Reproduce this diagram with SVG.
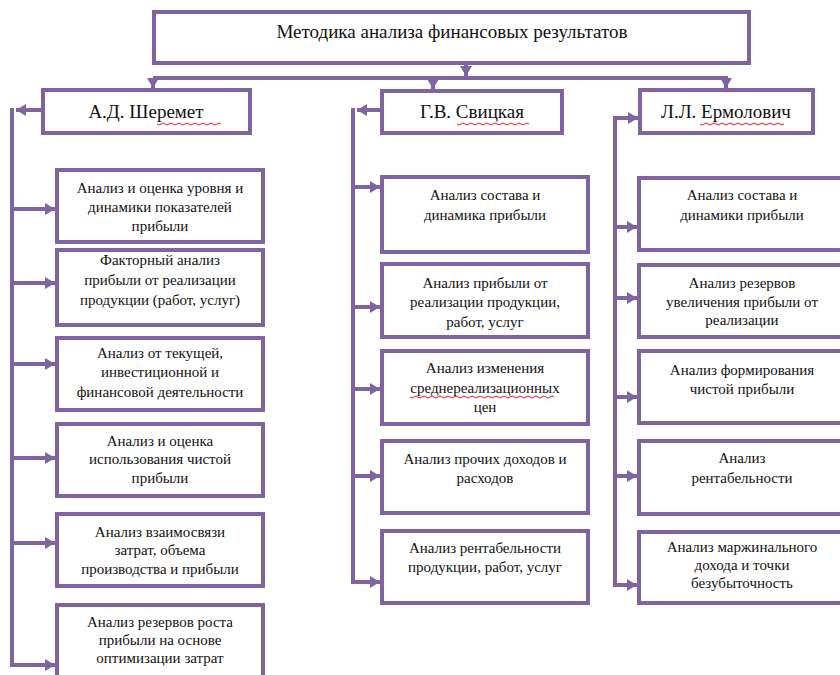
<svg xmlns="http://www.w3.org/2000/svg" width="840" height="675" viewBox="0 0 840 675">
<style>
.box{fill:#fff;stroke:#8064A2;stroke-width:4}
.ln{fill:none;stroke:#8064A2;stroke-width:4}
.t{font-size:15px;fill:#111;text-anchor:middle}
.h{font-size:19px;fill:#111;text-anchor:middle}
.sq{fill:none;stroke:#e02020;stroke-width:1}
</style>
<defs>
<marker id="ar" markerUnits="userSpaceOnUse" markerWidth="12" markerHeight="12" refX="10" refY="6" orient="auto">
<path d="M0,0 L10,6 L0,12 Z" fill="#8064A2"/>
</marker>
</defs>
<rect width="840" height="675" fill="#fff"/>
<g font-family="Liberation Serif, DejaVu Serif, serif">
<g id="root"><rect class="box" x="154" y="12" width="595" height="51"/><text class="h" x="452" y="38">Методика анализа финансовых результатов</text></g>
<g id="sheremet"><rect class="box" x="43" y="90" width="207" height="43"/><text class="h" x="146" y="118">А.Д. Шеремет</text></g>
<g id="svitskaya"><rect class="box" x="382" y="91" width="180" height="42"/><text class="h" x="472" y="118">Г.В. Свицкая</text></g>
<g id="ermolovich"><rect class="box" x="640" y="90" width="173" height="43"/><text class="h" x="726" y="118">Л.Л. Ермолович</text></g>

<g id="s1"><rect class="box" x="57" y="170" width="206" height="72"/><text class="t"><tspan x="160" y="193">Анализ и оценка уровня и</tspan><tspan x="160" y="212">динамики показателей</tspan><tspan x="160" y="231">прибыли</tspan></text></g>
<g id="s2"><rect class="box" x="57" y="250" width="206" height="75"/><text class="t"><tspan x="160" y="265">Факторный анализ</tspan><tspan x="160" y="285">прибыли от реализации</tspan><tspan x="160" y="305">продукции (работ, услуг)</tspan></text></g>
<g id="s3"><rect class="box" x="57" y="338" width="206" height="72"/><text class="t"><tspan x="160" y="358">Анализ от текущей,</tspan><tspan x="160" y="377">инвестиционной и</tspan><tspan x="160" y="397">финансовой деятельности</tspan></text></g>
<g id="s4"><rect class="box" x="57" y="424" width="206" height="72"/><text class="t"><tspan x="160" y="446">Анализ и оценка</tspan><tspan x="160" y="464">использования чистой</tspan><tspan x="160" y="483">прибыли</tspan></text></g>
<g id="s5"><rect class="box" x="57" y="514" width="206" height="72"/><text class="t"><tspan x="160" y="537">Анализ взаимосвязи</tspan><tspan x="160" y="555">затрат, объема</tspan><tspan x="160" y="574">производства и прибыли</tspan></text></g>
<g id="s6"><rect class="box" x="57" y="605" width="206" height="80"/><text class="t"><tspan x="160" y="627">Анализ резервов роста</tspan><tspan x="160" y="645">прибыли на основе</tspan><tspan x="160" y="663">оптимизации затрат</tspan></text></g>

<g id="v1"><rect class="box" x="382" y="177" width="206" height="75"/><text class="t"><tspan x="485" y="200">Анализ состава и</tspan><tspan x="485" y="220">динамика прибыли</tspan></text></g>
<g id="v2"><rect class="box" x="382" y="264" width="206" height="73"/><text class="t"><tspan x="485" y="288">Анализ прибыли от</tspan><tspan x="485" y="307">реализации продукции,</tspan><tspan x="485" y="327">работ, услуг</tspan></text></g>
<g id="v3"><rect class="box" x="382" y="351" width="206" height="73"/><text class="t"><tspan x="485" y="373">Анализ изменения</tspan><tspan x="485" y="393">среднереализационных</tspan><tspan x="485" y="412">цен</tspan></text></g>
<g id="v4"><rect class="box" x="382" y="441" width="206" height="72"/><text class="t"><tspan x="485" y="464">Анализ прочих доходов и</tspan><tspan x="485" y="483">расходов</tspan></text></g>
<g id="v5"><rect class="box" x="382" y="531" width="206" height="72"/><text class="t"><tspan x="485" y="553">Анализ рентабельности</tspan><tspan x="485" y="572">продукции, работ, услуг</tspan></text></g>

<g id="e1"><rect class="box" x="639" y="178" width="206" height="72"/><text class="t"><tspan x="742" y="200">Анализ состава и</tspan><tspan x="742" y="220">динамики прибыли</tspan></text></g>
<g id="e2"><rect class="box" x="639" y="265" width="206" height="72"/><text class="t"><tspan x="742" y="288">Анализ резервов</tspan><tspan x="742" y="307">увеличения прибыли от</tspan><tspan x="742" y="325">реализации</tspan></text></g>
<g id="e3"><rect class="box" x="639" y="351" width="206" height="72"/><text class="t"><tspan x="742" y="375">Анализ формирования</tspan><tspan x="742" y="394">чистой прибыли</tspan></text></g>
<g id="e4"><rect class="box" x="639" y="441" width="206" height="73"/><text class="t"><tspan x="742" y="463">Анализ</tspan><tspan x="742" y="483">рентабельности</tspan></text></g>
<g id="e5"><rect class="box" x="639" y="532" width="206" height="71"/><text class="t"><tspan x="742" y="552">Анализ маржинального</tspan><tspan x="742" y="570">дохода и точки</tspan><tspan x="742" y="588">безубыточность</tspan></text></g>
</g>

<g id="connectors">
<path class="ln" d="M466,65 V76" marker-end="url(#ar)"/>
<path class="ln" d="M153,78 H726"/>
<path class="ln" d="M153,78 V88" marker-end="url(#ar)"/>
<path class="ln" d="M433,78 V89" marker-end="url(#ar)"/>
<path class="ln" d="M726,76 V88" marker-end="url(#ar)"/>
<path class="ln" d="M41,110 H16" marker-end="url(#ar)"/>
<path class="ln" d="M12,108 V667"/>
<path class="ln" d="M12,209 H55" marker-end="url(#ar)"/>
<path class="ln" d="M12,283 H55" marker-end="url(#ar)"/>
<path class="ln" d="M12,364 H55" marker-end="url(#ar)"/>
<path class="ln" d="M12,458 H55" marker-end="url(#ar)"/>
<path class="ln" d="M12,543 H55" marker-end="url(#ar)"/>
<path class="ln" d="M10,665 H55" marker-end="url(#ar)"/>
<path class="ln" d="M380,110 H357" marker-end="url(#ar)"/>
<path class="ln" d="M353,108 V582"/>
<path class="ln" d="M353,187 H380" marker-end="url(#ar)"/>
<path class="ln" d="M353,307 H380" marker-end="url(#ar)"/>
<path class="ln" d="M353,389 H380" marker-end="url(#ar)"/>
<path class="ln" d="M353,476 H380" marker-end="url(#ar)"/>
<path class="ln" d="M351,582 H380" marker-end="url(#ar)"/>
<path class="ln" d="M613,118 H638" marker-end="url(#ar)"/>
<path class="ln" d="M615,116 V585"/>
<path class="ln" d="M615,227 H637" marker-end="url(#ar)"/>
<path class="ln" d="M615,298 H637" marker-end="url(#ar)"/>
<path class="ln" d="M615,397 H637" marker-end="url(#ar)"/>
<path class="ln" d="M615,476 H637" marker-end="url(#ar)"/>
<path class="ln" d="M613,585 H637" marker-end="url(#ar)"/>
</g>

<g id="squiggles">
<path class="sq" d="M157,124 q2,2 4,0 t4,0 t4,0 t4,0 t4,0 t4,0 t4,0 t4,0 t4,0 t4,0 t4,0 t4,0 t4,0 t4,0 t4,0 t4,0"/>
<path class="sq" d="M457,124 q2,2 4,0 t4,0 t4,0 t4,0 t4,0 t4,0 t4,0 t4,0 t4,0 t4,0 t4,0 t4,0 t4,0 t4,0 t4,0 t4,0 t4,0 t4,0"/>
<path class="sq" d="M700,124 q2,2 4,0 t4,0 t4,0 t4,0 t4,0 t4,0 t4,0 t4,0 t4,0 t4,0 t4,0 t4,0 t4,0 t4,0 t4,0 t4,0 t4,0 t4,0 t4,0 t4,0 t4,0"/>
<path class="sq" d="M410,397 q2,2 4,0 t4,0 t4,0 t4,0 t4,0 t4,0 t4,0 t4,0 t4,0 t4,0 t4,0 t4,0 t4,0 t4,0 t4,0 t4,0 t4,0 t4,0 t4,0 t4,0 t4,0 t4,0 t4,0 t4,0 t4,0 t4,0 t4,0 t4,0 t4,0 t4,0 t4,0 t4,0 t4,0 t4,0 t4,0 t4,0"/>
</g>
</svg>
